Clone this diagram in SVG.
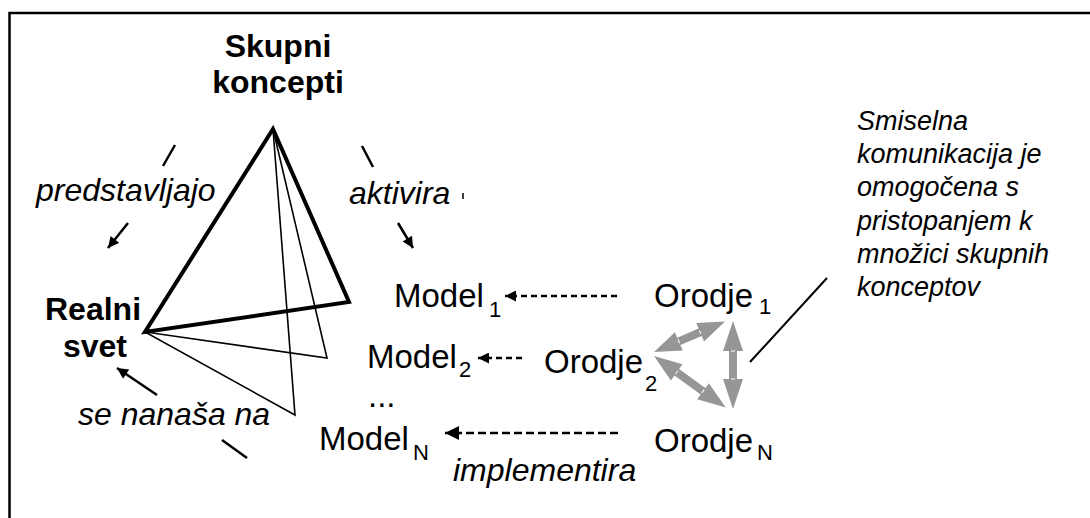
<svg xmlns="http://www.w3.org/2000/svg" width="1090" height="518" viewBox="0 0 1090 518">
<style>
text{font-family:"Liberation Sans",Arial,sans-serif;fill:#000}
.b{font-weight:bold;font-size:32px}
.r{font-size:33px}
.i{font-style:italic;font-size:32px}
.s{font-size:22px}
.n{font-style:italic;font-size:27px}
.ln{stroke:#000;stroke-width:2.5;fill:none}
.tri{stroke:#000;fill:none;stroke-linejoin:miter}
.ga{fill:#969696}
.wt{stroke:#fff;stroke-width:1}
</style>
<defs>
<marker id="ah" viewBox="0 0 10 10" refX="10" refY="5" markerUnits="userSpaceOnUse" markerWidth="13" markerHeight="11" orient="auto"><path d="M0,0 L10,5 L0,10 z" fill="#000"/></marker>
<marker id="ahL" viewBox="0 0 10 10" refX="10" refY="5" markerUnits="userSpaceOnUse" markerWidth="15" markerHeight="14" orient="auto"><path d="M0,0 L10,5 L0,10 z" fill="#000"/></marker>
</defs>
<rect width="1090" height="518" fill="#fff"/>
<g id="frame" stroke="#000" stroke-width="2.5" fill="none">
<path d="M9.5,518 L9.5,13 L1090,13"/>
</g>
<g id="triangles">
<polygon class="tri" stroke-width="1.6" points="273,129 295,415 145,332"/>
<polygon class="tri" stroke-width="1.6" points="273,129 327,358 145,332"/>
<polygon class="tri" stroke-width="4" points="273,129 349,302 145,332"/>
</g>
<g id="connectors">
<line class="ln" x1="175" y1="145" x2="163" y2="166"/>
<line class="ln" x1="128" y1="223" x2="108" y2="248" marker-end="url(#ah)"/>
<line class="ln" x1="362" y1="146" x2="373" y2="167"/>
<line class="ln" x1="398" y1="223" x2="413" y2="248" marker-end="url(#ah)"/>
<line x1="463" y1="193" x2="463" y2="199" stroke="#000" stroke-width="1.5"/>
<line class="ln" x1="157" y1="395" x2="117" y2="368" marker-end="url(#ah)"/>
<line class="ln" x1="222" y1="440" x2="247" y2="458"/>
<line class="ln" x1="617" y1="296" x2="505" y2="296" stroke-dasharray="6 4" marker-end="url(#ah)"/>
<line class="ln" x1="522" y1="358" x2="478" y2="358" stroke-dasharray="6 4" marker-end="url(#ah)"/>
<line class="ln" x1="618" y1="433" x2="445" y2="433" stroke-width="3.5" stroke-dasharray="8 4" marker-end="url(#ahL)"/>
<line x1="750" y1="362" x2="827" y2="278" stroke="#000" stroke-width="2"/>
<g class="ga">
<polygon transform="translate(654,352) rotate(-23.2)" points="0,0 27,-10 27,-4 50.2,-4 50.2,-10 77.2,0 50.2,10 50.2,4 27,4 27,10"/>
<polygon transform="translate(654,356) rotate(35.7)" points="0,0 28,-10 28,-4 60.4,-4 60.4,-10 88.4,0 60.4,10 60.4,4 28,4 28,10"/>
<polygon transform="translate(733,321) rotate(90)" points="0,0 30,-10 30,-4 58,-4 58,-10 88,0 58,10 58,4 30,4 30,10"/>
</g>
<g class="wt">
<line transform="translate(654,352) rotate(-23.2)" x1="27" y1="-2" x2="27" y2="2"/>
<line transform="translate(654,352) rotate(-23.2)" x1="50.2" y1="-2" x2="50.2" y2="2"/>
<line transform="translate(654,356) rotate(35.7)" x1="28" y1="-2" x2="28" y2="2"/>
<line transform="translate(654,356) rotate(35.7)" x1="60.4" y1="-2" x2="60.4" y2="2"/>
<line transform="translate(733,321) rotate(90)" x1="30" y1="-2" x2="30" y2="2"/>
<line transform="translate(733,321) rotate(90)" x1="58" y1="-2" x2="58" y2="2"/>
</g>
</g>
<g id="skupni-koncepti">
<text class="b" x="278" y="57" text-anchor="middle">Skupni</text>
<text class="b" x="278" y="93" text-anchor="middle">koncepti</text>
</g>
<g id="realni-svet">
<text class="b" x="93" y="320" text-anchor="middle">Realni</text>
<text class="b" x="95" y="357" text-anchor="middle">svet</text>
</g>
<g id="label-predstavljajo"><text class="i" x="36" y="201">predstavljajo</text></g>
<g id="label-aktivira"><text class="i" x="349" y="204">aktivira</text></g>
<g id="label-se-nanasa-na"><text class="i" x="78" y="425">se nanaša na</text></g>
<g id="label-implementira"><text class="i" x="453" y="481">implementira</text></g>
<g id="model1"><text class="r" x="394" y="307">Model</text><text class="s" x="489" y="317">1</text></g>
<g id="model2"><text class="r" x="367" y="368">Model</text><text class="s" x="459" y="377">2</text></g>
<g id="dots"><text class="r" x="368" y="407">...</text></g>
<g id="modelN"><text class="r" x="319" y="450">Model</text><text class="s" x="413" y="460">N</text></g>
<g id="orodje1"><text class="r" x="654" y="307">Orodje</text><text class="s" x="759" y="314">1</text></g>
<g id="orodje2"><text class="r" x="544" y="373">Orodje</text><text class="s" x="645" y="391">2</text></g>
<g id="orodjeN"><text class="r" x="654" y="452">Orodje</text><text class="s" x="757" y="460">N</text></g>
<g id="note">
<text class="n" x="857" y="130">Smiselna</text>
<text class="n" x="857" y="163">komunikacija je</text>
<text class="n" x="857" y="196">omogočena s</text>
<text class="n" x="857" y="230">pristopanjem k</text>
<text class="n" x="857" y="263">množici skupnih</text>
<text class="n" x="857" y="296">konceptov</text>
</g>
</svg>
